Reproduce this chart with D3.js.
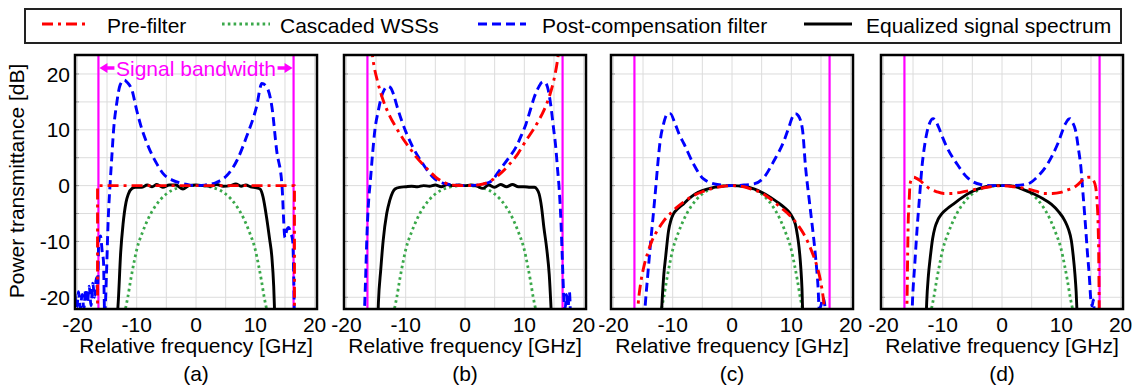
<!DOCTYPE html>
<html>
<head>
<meta charset="utf-8">
<script src="https://cdn.jsdelivr.net/npm/d3@7"></script>
<style>
  body { margin: 0; background: #fff; }
  text { font-family: "Liberation Sans", Arial, sans-serif; fill: #000; }
</style>
</head>
<body>
<div id="vis"></div>
<script>
(function run(){

  // ---- data (frequency GHz, transmittance dB) ----
  var panelNames = ["(a)", "(b)", "(c)", "(d)"];
  var xTicks = [-20, -10, 0, 10, 20];
  var yTicks = [-20, -10, 0, 10, 20];
  var gridStep = 5;
  var bandEdge = 16.45;
  var legendNames = ["Pre-filter", "Cascaded WSSs", "Post-compensation filter", "Equalized signal spectrum"];

  // cascaded WSS response, the same in every panel
  var wss = [[-12.4,-24],[-12,-22.5],[-11.5,-20],[-11,-16.8],[-10.5,-14],[-10,-11.5],[-9,-8.3],[-8,-5.8],
    [-7,-3.9],[-6,-2.5],[-5,-1.5],[-4,-0.8],[-3,-0.4],[-2,-0.15],[-1,-0.03],[0,0],[1,-0.03],[2,-0.15],
    [3,-0.4],[4,-0.8],[5,-1.5],[6,-2.5],[7,-3.9],[8,-5.8],[9,-8.3],[10,-11.5],[10.5,-14],[11,-16.8],
    [11.5,-20],[12,-22.5],[12.4,-24]];

  var preA = [[-16.6,-24],[-16.6,0],[16.6,0],[16.6,-24]];
  var postA = [[-20.4,-19.5],[-20.1,-22],[-19.8,-19],[-19.5,-22],[-19.2,-19.5],[-18.9,-22],[-18.6,-18.5],
    [-18.3,-21],[-18,-18],[-17.7,-21.5],[-17.4,-17.5],[-17.1,-20],[-16.8,-16.5],[-16.6,-19],[-16.4,-10],
    [-16.1,-9],[-15.8,-12],[-15.6,-13.5],[-15.4,-23],[-15.1,-16],[-14.8,-6],[-14.5,0],[-14.2,5],
    [-13.9,9.9],[-13.4,14.5],[-12.8,18],[-12.1,18.9],[-11.6,18.5],[-10.8,17.1],[-10,13.5],[-9.4,11.1],
    [-8,6.9],[-6.6,3.9],[-5.5,2.1],[-3.8,0.9],[-2.4,0.4],[-1,0.1],[0,0],[1.5,0.1],[3.5,0.6],[5.2,1.8],
    [6.9,4.5],[8.5,8.7],[10.2,14.1],[11.1,18.3],[11.9,17.7],[12.8,14.1],[13.6,6.3],[14.5,0],[15,-9.3],
    [15.3,-8],[15.6,-7.5],[16,-8.5],[16.3,-9.9],[16.6,-24]];
  var eqA = [[-13.3,-24],[-13.1,-20.7],[-12.7,-12],[-12.3,-6.9],[-11.8,-3],[-11.4,-1.5],[-10.8,-0.5],
    [-10.2,-0.3],[-9.2,-0.3],[-8.2,0.1],[-7.4,-0.2],[-6.6,0.2],[-5.6,-0.3],[-4.5,0.1],[-3.4,0.1],
    [-2.2,-0.6],[-1.2,0],[0,0.1],[1.2,0],[2.4,-0.1],[3.5,0.2],[4.6,-0.1],[5.8,0],[6.7,0.3],[7.6,-0.1],
    [8.4,0.1],[9.2,-0.2],[10.2,-0.4],[10.8,-0.6],[11.3,-2],[11.9,-5.7],[12.4,-9.5],[12.8,-12.9],
    [13.1,-18],[13.3,-24]];

  var preB = [[-15.8,25],[-15.5,22.5],[-14.7,18.5],[-13.8,15.3],[-12.7,12.5],[-11.5,10.2],[-10.4,8.3],
    [-9.3,6.7],[-8.2,5.1],[-7.1,3.8],[-6,2.6],[-4.9,1.5],[-3.4,0.5],[-2,0.1],[0,0],[2,0.1],[4.1,0.7],
    [5.8,2],[7.4,3.7],[8.9,5.7],[10.3,8.1],[11.5,10],[12.5,11.8],[13.4,13.7],[14.2,15.9],[15,19],
    [15.6,22.5],[15.9,25]];
  var postB = [[-17,-24],[-16.8,-18],[-16.5,-8],[-16.2,-2],[-16,0.3],[-15.6,5.5],[-15.2,9.9],[-14.6,13.5],
    [-14.1,15.9],[-13.6,17.2],[-13,17.8],[-12.5,17.5],[-12.1,16.5],[-11.4,14],[-10.7,11.7],[-9.8,9.2],
    [-8.8,6.9],[-7.1,3.9],[-5.4,1.5],[-3.2,0.3],[-1.5,0.1],[0,0],[2,0.1],[4.1,0.6],[6.2,3.3],[7.4,5],
    [8.6,6.9],[9.5,9],[10.3,11.1],[11,13.5],[11.7,15.9],[12.4,17.6],[13.1,18.6],[13.6,18.4],[13.9,17.7],
    [14.5,14.1],[14.9,10.5],[15.3,6.9],[15.6,3],[15.9,-0.9],[16.2,-7],[16.4,-12.9],[16.7,-20.7],
    [16.9,-22],[17.1,-19.5],[17.4,-21.5],[17.6,-19],[17.8,-24]];
  var eqB = [[-14.7,-24],[-14.6,-21],[-14.2,-15],[-13.8,-9.9],[-13.2,-5],[-12.7,-2.7],[-12.2,-1.2],
    [-11.8,-0.6],[-11,-0.3],[-10,-0.2],[-9,-0.1],[-8,-0.2],[-7,0],[-6,-0.1],[-5,0.1],[-4,-0.2],[-3,0.2],
    [-2,0],[-1,0.1],[0,0],[1,0.1],[2,-0.1],[3,-0.5],[4,0.1],[5,-0.3],[6,0.2],[7,-0.2],[8,0.2],[9,-0.2],
    [10,-0.2],[11,-0.3],[11.7,-0.3],[12.1,-0.6],[12.5,-1.5],[12.9,-3.8],[13.3,-7.5],[13.8,-11.5],
    [14.2,-15.9],[14.6,-24]];

  var preC = [[-16,-24],[-15.8,-21],[-15.4,-17.5],[-14.9,-14.7],[-14.2,-12],[-13.5,-9.9],[-12.5,-7.9],
    [-11.5,-6.3],[-10.4,-5],[-9.3,-3.9],[-8,-2.8],[-6.5,-1.8],[-5,-1.1],[-3.6,-0.6],[-2,-0.2],[0,0],
    [2,-0.2],[3.5,-0.7],[4.8,-1.2],[6.5,-2.4],[8.2,-3.9],[9.7,-5.3],[11,-6.9],[12,-8.5],[12.7,-9.9],
    [13.6,-12.2],[14.4,-14.7],[15,-17.5],[15.5,-21.3],[15.7,-24]];
  var postC = [[-14.8,-24],[-14.6,-21],[-14.2,-16],[-13.8,-11.1],[-13.3,-5.5],[-12.9,-0.9],[-12.5,4],
    [-12.1,8.1],[-11.6,10.8],[-11.2,12.3],[-10.8,12.9],[-10.4,12.9],[-9.6,11.1],[-8.9,9.2],[-8.1,7.5],
    [-6.5,3.9],[-4.8,1.2],[-2.5,0.2],[0,0],[2,0.1],[3.7,0.3],[5.4,1.5],[7.1,4.5],[8.8,8.1],[9.6,10.5],
    [10.2,12.3],[10.7,12.9],[11.2,12.5],[11.9,9.9],[12.4,3.3],[12.9,-1.5],[13.3,-5.1],[14.1,-12.9],
    [14.5,-18],[14.7,-22],[15,-21.5],[15.3,-20],[15.6,-21],[15.8,-24]];
  var eqC = [[-11.95,-24],[-11.8,-21],[-11.5,-16],[-11.2,-12.9],[-10.7,-8.1],[-10.3,-6.2],[-9.9,-5.1],
    [-9.2,-4.2],[-8.2,-3.3],[-7.2,-2.3],[-6.2,-1.5],[-5,-0.9],[-3.4,-0.4],[-2,-0.1],[0,0],[2,-0.1],
    [3.7,-0.6],[5,-1.2],[6.5,-2.1],[7.7,-3],[8.8,-3.9],[9.6,-4.7],[10.2,-5.7],[10.7,-7],[11,-8.7],
    [11.3,-11],[11.6,-14.7],[11.8,-18.5],[11.95,-24]];

  var preD = [[-16.1,-24],[-16,-20],[-15.9,-12],[-15.8,-6],[-15.7,-3.9],[-15.5,0.3],[-15.2,1.2],
    [-14.9,1.5],[-14.4,1.3],[-13.8,0.9],[-13,0.1],[-12.1,-0.6],[-11,-1.1],[-9.8,-1.4],[-8.5,-1.4],
    [-7,-1.2],[-5.5,-0.9],[-4.2,-0.6],[-2,-0.2],[0,0],[2,-0.2],[4.3,-0.6],[5.7,-1],[7.1,-1.4],[8.5,-1.4],
    [9.9,-1.2],[11,-0.8],[12.2,-0.3],[13,0.4],[13.8,1.2],[14.5,1.5],[14.9,1.5],[15.4,1],[15.8,-0.3],
    [16,-2.5],[16.2,-6.9],[16.3,-12],[16.4,-24]];
  var postD = [[-15.2,-24],[-15.1,-21],[-14.7,-14],[-14.3,-7.5],[-13.9,-2],[-13.5,3.3],[-13.1,6.8],
    [-12.7,9.3],[-12.2,11.2],[-11.6,12],[-11.2,11.6],[-10.7,10.5],[-10,8.6],[-9.3,6.9],[-7.6,3.9],
    [-5.9,1.5],[-3.6,0.2],[-1.5,0],[0,0],[1.5,0],[4.3,0.3],[5.9,1.5],[7.7,3.9],[9.4,7.5],[10.7,11.1],
    [11.2,11.9],[11.5,12],[11.9,11.3],[12.4,9.9],[12.9,6.5],[13.3,3.3],[13.7,-2],[14.1,-7.5],[14.4,-12],
    [14.7,-15.9],[15,-20.7],[15.2,-21.5],[15.4,-20.5],[15.6,-24]];
  var eqD = [[-12.8,-24],[-12.7,-21],[-12.4,-16],[-12.1,-12.9],[-11.7,-9.5],[-11.3,-7.5],[-10.8,-6.1],
    [-10.2,-5.1],[-9.2,-4.1],[-8.2,-3.3],[-6.8,-2.2],[-5.3,-1.2],[-4,-0.6],[-2.6,-0.15],[-1,0],[0,0],
    [1,0],[2,-0.1],[3.6,-0.7],[5.4,-1.5],[7,-2.4],[8.3,-3.3],[9.5,-4.6],[10.6,-6.3],[11.2,-7.8],
    [11.7,-9.9],[12,-12.5],[12.3,-15.9],[12.5,-19],[12.7,-24]];

  var panels = [
    { name: panelNames[0], pre: preA, post: postA, eq: eqA, preLinear: true },
    { name: panelNames[1], pre: preB, post: postB, eq: eqB },
    { name: panelNames[2], pre: preC, post: postC, eq: eqC },
    { name: panelNames[3], pre: preD, post: postD, eq: eqD }
  ];

  // ---- layout ----
  var panelLeft = [75, 344, 611, 881];
  var panelTop = 55;
  var width = 242;
  var height = 254;

  var styles = {
    pre:  { color: "#ff0000", dash: "11,5,3,5", w: 2.9 },
    wss:  { color: "#3aa84a", dash: "2.6,3.2", w: 2.8 },
    post: { color: "#0000ff", dash: "9,5", w: 2.9 },
    eq:   { color: "#000000", dash: null, w: 2.9 }
  };

  var svg = d3.select("#vis")
    .append("svg")
      .attr("width", 1133)
      .attr("height", 387);

  var x = d3.scaleLinear().domain([-20.4, 20.4]).range([0, width]);
  var y = d3.scaleLinear().domain([-22.1, 23.4]).range([height, 0]);

  var gridX = d3.range(-20, 20.01, gridStep);
  var gridY = d3.range(-20, 20.01, gridStep);

  panels.forEach(function(p, i) {
    var g = svg.append("g")
      .attr("transform", "translate(" + panelLeft[i] + "," + panelTop + ")");

    g.append("clipPath").attr("id", "clip" + i)
      .append("rect").attr("width", width).attr("height", height);

    // grid
    g.selectAll(".gx").data(gridX).enter().append("line")
      .attr("x1", function(d){ return x(d); }).attr("x2", function(d){ return x(d); })
      .attr("y1", 0).attr("y2", height)
      .attr("stroke", "#dcdcdc").attr("stroke-width", 1);
    g.selectAll(".gy").data(gridY).enter().append("line")
      .attr("x1", 0).attr("x2", width)
      .attr("y1", function(d){ return y(d); }).attr("y2", function(d){ return y(d); })
      .attr("stroke", "#dcdcdc").attr("stroke-width", 1);
    g.selectAll(".ty").data(gridY).enter().append("line")
      .attr("x1", 0).attr("x2", 4)
      .attr("y1", function(d){ return y(d); }).attr("y2", function(d){ return y(d); })
      .attr("stroke", "#999").attr("stroke-width", 1);

    var plot = g.append("g").attr("clip-path", "url(#clip" + i + ")");

    // signal bandwidth edges
    plot.selectAll(".band").data([-bandEdge, bandEdge]).enter().append("line")
      .attr("x1", function(d){ return x(d); }).attr("x2", function(d){ return x(d); })
      .attr("y1", 0).attr("y2", height)
      .attr("stroke", "#ff00ff").attr("stroke-width", 2.2);

    var smooth = d3.line()
      .x(function(d){ return x(d[0]); })
      .y(function(d){ return y(d[1]); })
      .curve(d3.curveMonotoneX);
    var straight = d3.line()
      .x(function(d){ return x(d[0]); })
      .y(function(d){ return y(d[1]); });

    function draw(data, st, gen) {
      plot.append("path")
        .datum(data)
        .attr("d", gen)
        .attr("fill", "none")
        .attr("stroke", st.color)
        .attr("stroke-width", st.w)
        .attr("stroke-dasharray", st.dash)
        .attr("stroke-linejoin", "round");
    }

    draw(wss, styles.wss, smooth);
    draw(p.eq, styles.eq, smooth);
    draw(p.post, styles.post, smooth);
    draw(p.pre, styles.pre, p.preLinear ? straight : smooth);

    // frame
    g.append("rect")
      .attr("width", width).attr("height", height)
      .attr("fill", "none").attr("stroke", "#000").attr("stroke-width", 2.5);

    // x tick labels
    g.selectAll(".xt").data(xTicks).enter().append("text")
      .attr("x", function(d){ return x(d); })
      .attr("y", height + 23)
      .attr("text-anchor", "middle")
      .style("font-size", "21px")
      .text(function(d){ return d; });

    g.append("text")
      .attr("x", width / 2).attr("y", height + 44)
      .attr("text-anchor", "middle")
      .style("font-size", "21px")
      .text("Relative frequency [GHz]");

    g.append("text")
      .attr("x", width / 2).attr("y", height + 72)
      .attr("text-anchor", "middle")
      .style("font-size", "21px")
      .text(p.name);

    if (i === 0) {
      g.selectAll(".yt").data(yTicks).enter().append("text")
        .attr("x", -5)
        .attr("y", function(d){ return y(d); })
        .attr("dy", ".36em")
        .attr("text-anchor", "end")
        .style("font-size", "21px")
        .text(function(d){ return d; });

      g.append("text")
        .attr("transform", "rotate(-90)")
        .attr("x", -height / 2 + 1)
        .attr("y", -58)
        .attr("dy", ".35em")
        .attr("text-anchor", "middle")
        .style("font-size", "21px")
        .text("Power transmittance [dB]");

      // "Signal bandwidth" with double arrow
      var ay = 13;
      var xl = x(-bandEdge) + 1, xr = x(bandEdge) - 1;
      g.append("text")
        .attr("x", x(0)).attr("y", ay + 8)
        .attr("text-anchor", "middle")
        .style("font-size", "21px")
        .style("fill", "#ff00ff")
        .text("Signal bandwidth");
      g.append("line").attr("x1", xl + 5).attr("x2", xl + 15)
        .attr("y1", ay).attr("y2", ay).attr("stroke", "#ff00ff").attr("stroke-width", 3.5);
      g.append("line").attr("x1", xr - 15).attr("x2", xr - 5)
        .attr("y1", ay).attr("y2", ay).attr("stroke", "#ff00ff").attr("stroke-width", 3.5);
      g.append("path")
        .attr("d", "M" + xl + "," + ay + "L" + (xl + 8) + "," + (ay - 5) + "L" + (xl + 8) + "," + (ay + 5) + "Z")
        .attr("fill", "#ff00ff");
      g.append("path")
        .attr("d", "M" + xr + "," + ay + "L" + (xr - 8) + "," + (ay - 5) + "L" + (xr - 8) + "," + (ay + 5) + "Z")
        .attr("fill", "#ff00ff");
    }
  });

  // ---- legend ----
  var legend = svg.append("g");
  legend.append("rect")
    .attr("x", 25).attr("y", 9).attr("width", 1096).attr("height", 34)
    .attr("fill", "#fff").attr("stroke", "#222").attr("stroke-width", 2);

  var legendKeys = ["pre", "wss", "post", "eq"];
  var sampleX = [42, 222, 478, 804];
  var textX = [107, 280, 542, 866];
  legendKeys.forEach(function(k, i) {
    var st = styles[k];
    legend.append("line")
      .attr("x1", sampleX[i]).attr("x2", sampleX[i] + 48)
      .attr("y1", 24).attr("y2", 24)
      .attr("stroke", st.color).attr("stroke-width", st.w + 0.2)
      .attr("stroke-dasharray", st.dash);
    legend.append("text")
      .attr("x", textX[i]).attr("y", 32.5)
      .style("font-size", "21px")
      .text(legendNames[i]);
  });

})();
</script>
</body>
</html>
